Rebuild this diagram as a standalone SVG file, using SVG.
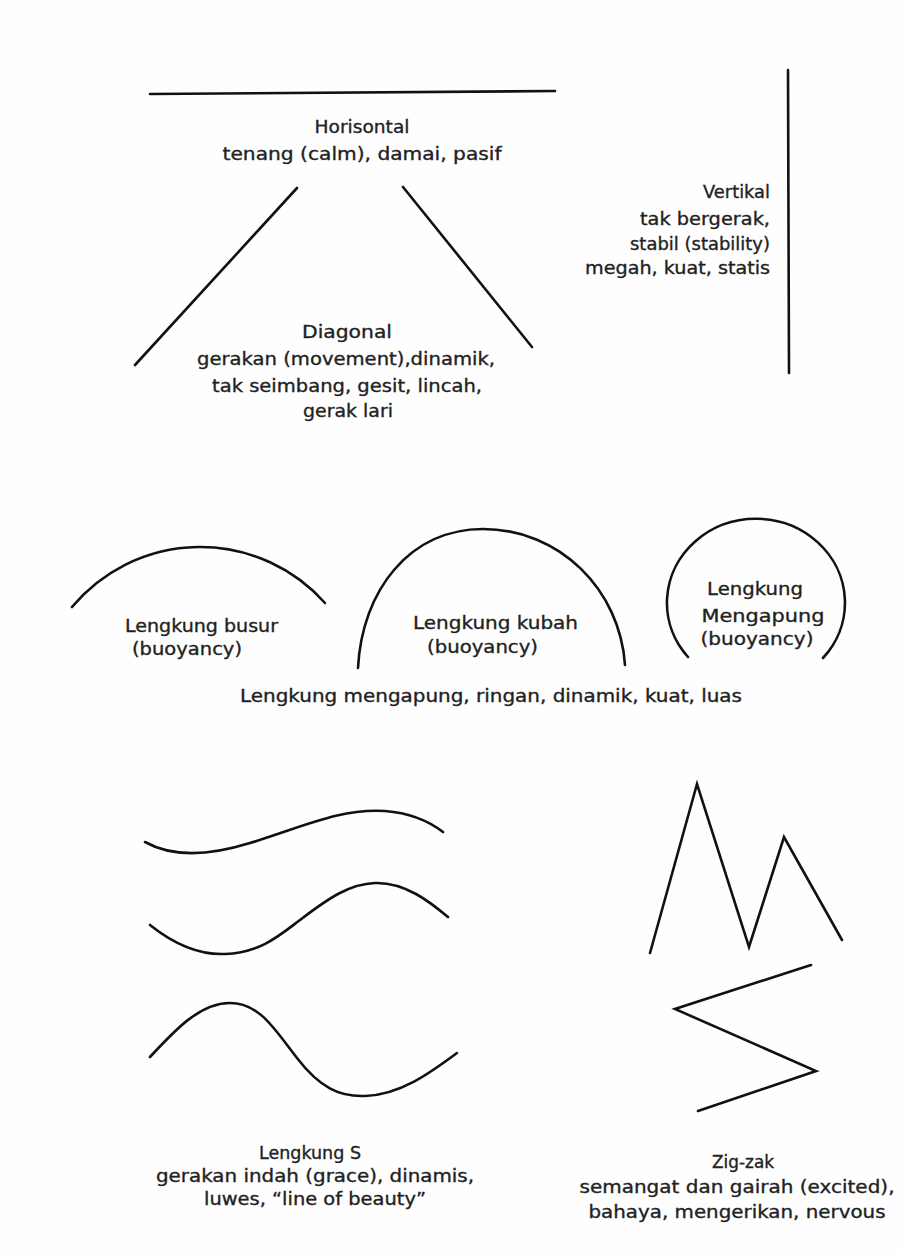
<svg xmlns="http://www.w3.org/2000/svg" width="903" height="1253" viewBox="0 0 903 1253">
  <style>
    .ln { fill: none; stroke: #111; stroke-width: 2.6; stroke-linecap: round; stroke-linejoin: miter; }
    .tx { font-family: "DejaVu Sans", "Liberation Sans", sans-serif; font-size: 18px; fill: #222; stroke: #222; stroke-width: 0.35; }
    .c { text-anchor: middle; }
    .r { text-anchor: end; }
  </style>
  <rect width="903" height="1253" fill="#fefefe"/>

  <!-- horizontal line -->
  <g id="horisontal">
    <line class="ln" x1="150" y1="94" x2="555" y2="91" stroke-width="3"/>
    <text class="tx c" x="362" y="133" textLength="95" lengthAdjust="spacingAndGlyphs">Horisontal</text>
    <text class="tx c" x="362" y="160" textLength="279" lengthAdjust="spacingAndGlyphs">tenang (calm), damai, pasif</text>
  </g>

  <!-- vertical line -->
  <g id="vertikal">
    <line class="ln" x1="788" y1="70" x2="789" y2="373"/>
    <text class="tx r" x="770" y="198" textLength="67" lengthAdjust="spacingAndGlyphs">Vertikal</text>
    <text class="tx r" x="770" y="225" textLength="130" lengthAdjust="spacingAndGlyphs">tak bergerak,</text>
    <text class="tx r" x="770" y="250" textLength="140" lengthAdjust="spacingAndGlyphs">stabil (stability)</text>
    <text class="tx r" x="770" y="274" textLength="185" lengthAdjust="spacingAndGlyphs">megah, kuat, statis</text>
  </g>

  <!-- diagonal lines -->
  <g id="diagonal">
    <line class="ln" x1="135" y1="365" x2="297" y2="188"/>
    <line class="ln" x1="403" y1="187" x2="532" y2="347"/>
    <text class="tx c" x="347" y="338" textLength="90" lengthAdjust="spacingAndGlyphs">Diagonal</text>
    <text class="tx c" x="346" y="365" textLength="298" lengthAdjust="spacingAndGlyphs">gerakan (movement),dinamik,</text>
    <text class="tx c" x="347" y="392" textLength="270" lengthAdjust="spacingAndGlyphs">tak seimbang, gesit, lincah,</text>
    <text class="tx c" x="348" y="417" textLength="90" lengthAdjust="spacingAndGlyphs">gerak lari</text>
  </g>

  <!-- bow curve -->
  <g id="lengkung-busur">
    <path class="ln" d="M72,607 A167,167 0 0 1 325,603"/>
    <text class="tx" x="125" y="632" textLength="153" lengthAdjust="spacingAndGlyphs">Lengkung busur</text>
    <text class="tx" x="132" y="655" textLength="110" lengthAdjust="spacingAndGlyphs">(buoyancy)</text>
  </g>

  <!-- dome curve -->
  <g id="lengkung-kubah">
    <path class="ln" d="M358,668 C362,590 410,529 483,529 C560,529 620,590 625,665"/>
    <text class="tx" x="413" y="629" textLength="165" lengthAdjust="spacingAndGlyphs">Lengkung kubah</text>
    <text class="tx" x="427" y="653" textLength="111" lengthAdjust="spacingAndGlyphs">(buoyancy)</text>
  </g>

  <!-- floating curve -->
  <g id="lengkung-mengapung">
    <path class="ln" d="M688,657 A89,84 0 1 1 823,658"/>
    <text class="tx c" x="755" y="595" textLength="96" lengthAdjust="spacingAndGlyphs">Lengkung</text>
    <text class="tx c" x="763" y="622" textLength="123" lengthAdjust="spacingAndGlyphs">Mengapung</text>
    <text class="tx c" x="757" y="645" textLength="113" lengthAdjust="spacingAndGlyphs">(buoyancy)</text>
  </g>

  <g id="lengkung-caption">
    <text class="tx" x="240" y="702" font-size="19" textLength="502" lengthAdjust="spacingAndGlyphs">Lengkung mengapung, ringan, dinamik, kuat, luas</text>
  </g>

  <!-- S curves -->
  <g id="lengkung-s">
    <path class="ln" d="M145,842 C170,856 205,857 250,843 C300,828 340,808 385,811 C410,813 430,822 443,832"/>
    <path class="ln" d="M150,925 C175,945 200,955 225,954 C260,953 280,935 300,920 C330,897 350,884 375,883 C405,882 430,902 448,917"/>
    <path class="ln" d="M150,1057 C175,1030 200,1003 230,1003 C260,1003 275,1030 297,1058 C320,1088 340,1097 365,1096 C400,1095 430,1073 457,1053"/>
    <text class="tx c" x="310" y="1159" textLength="102" lengthAdjust="spacingAndGlyphs">Lengkung S</text>
    <text class="tx c" x="315" y="1182" textLength="318" lengthAdjust="spacingAndGlyphs">gerakan indah (grace), dinamis,</text>
    <text class="tx c" x="315" y="1205" textLength="222" lengthAdjust="spacingAndGlyphs">luwes, “line of beauty”</text>
  </g>

  <!-- zig-zag lines -->
  <g id="zig-zak">
    <polyline class="ln" points="650,953 697,784 749,947 784,837 842,940"/>
    <polyline class="ln" points="811,965 675,1009 816,1071 698,1111"/>
    <text class="tx c" x="743" y="1168" textLength="62" lengthAdjust="spacingAndGlyphs">Zig-zak</text>
    <text class="tx c" x="737" y="1193" textLength="315" lengthAdjust="spacingAndGlyphs">semangat dan gairah (excited),</text>
    <text class="tx c" x="737" y="1218" textLength="297" lengthAdjust="spacingAndGlyphs">bahaya, mengerikan, nervous</text>
  </g>
</svg>
